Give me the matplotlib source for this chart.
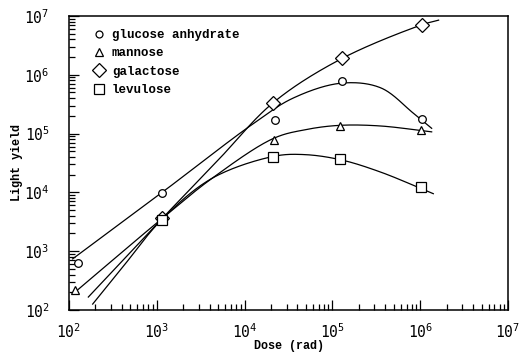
import numpy as np
import matplotlib
matplotlib.use('Agg')
import matplotlib.pyplot as plt
from matplotlib.lines import Line2D
from matplotlib.ticker import LogLocator, NullFormatter

plt.rcParams['font.family'] = ['DejaVu Sans Mono']
plt.rcParams['mathtext.default'] = 'regular'

# measured points (dose in rad, light yield)
glucose_dose = [1.25e2, 1.14e3, 2.2e4, 1.28e5, 1.04e6]
glucose_yield = [6.2e2, 9.9e3, 1.7e5, 7.9e5, 1.77e5]

mannose_dose = [1.18e2, 1.14e3, 2.15e4, 1.22e5, 1.02e6]
mannose_yield = [2.2e2, 3.4e3, 7.9e4, 1.36e5, 1.15e5]

galactose_dose = [1.15e3, 2.12e4, 1.28e5, 1.04e6]
galactose_yield = [3.6e3, 3.36e5, 1.9e6, 7.0e6]

levulose_dose = [1.14e3, 2.12e4, 1.22e5, 1.02e6]
levulose_yield = [3.4e3, 4.05e4, 3.66e4, 1.25e4]

# hand-drawn fit curves (knots along each line)
glucose_fit_dose = [1.1e2, 1.15e3, 1.26e4, 3.55e4, 1.26e5, 3.55e5, 8.3e5, 1.35e6]
glucose_fit_yield = [7.4e2, 1.0e4, 1.48e5, 4.0e5, 7.2e5, 6.0e5, 2.24e5, 1.23e5]

mannose_fit_dose = [1.1e2, 1.15e3, 4.27e3, 2.14e4, 5.0e4, 1.2e5, 3.47e5, 1.35e6]
mannose_fit_yield = [1.86e2, 3.6e3, 1.74e4, 8.3e4, 1.17e5, 1.38e5, 1.35e5, 1.07e5]

galactose_fit_dose = [1.66e2, 1.15e3, 5.0e3, 2.14e4, 1.29e5, 1.05e6, 1.62e6]
galactose_fit_yield = [1.66e2, 3.6e3, 3.55e4, 3.4e5, 1.9e6, 7.1e6, 8.5e6]

levulose_fit_dose = [1.86e2, 3.98e2, 1.15e3, 4.27e3, 2.14e4, 4.7e4, 1.23e5, 3.47e5, 1.41e6]
levulose_fit_yield = [1.26e2, 5.1e2, 3.5e3, 1.74e4, 4.1e4, 4.4e4, 3.6e4, 2.24e4, 9.5e3]


def smooth(xs, ys, n=40, alpha=0.5):
    # centripetal Catmull-Rom through the knots, in log-log space
    pts = np.column_stack([1.5 * np.log10(xs), np.log10(ys)])
    p = np.vstack([2 * pts[0] - pts[1], pts, 2 * pts[-1] - pts[-2]])
    segs = []
    for i in range(1, len(p) - 2):
        P0, P1, P2, P3 = p[i - 1], p[i], p[i + 1], p[i + 2]
        t0 = 0.0
        t1 = t0 + np.linalg.norm(P1 - P0) ** alpha
        t2 = t1 + np.linalg.norm(P2 - P1) ** alpha
        t3 = t2 + np.linalg.norm(P3 - P2) ** alpha
        t = np.linspace(t1, t2, n)[:, None]
        A1 = (t1 - t) / (t1 - t0) * P0 + (t - t0) / (t1 - t0) * P1
        A2 = (t2 - t) / (t2 - t1) * P1 + (t - t1) / (t2 - t1) * P2
        A3 = (t3 - t) / (t3 - t2) * P2 + (t - t2) / (t3 - t2) * P3
        B1 = (t2 - t) / (t2 - t0) * A1 + (t - t0) / (t2 - t0) * A2
        B2 = (t3 - t) / (t3 - t1) * A2 + (t - t1) / (t3 - t1) * A3
        C = (t2 - t) / (t2 - t1) * B1 + (t - t1) / (t2 - t1) * B2
        segs.append(C)
    c = np.vstack(segs)
    return 10 ** (c[:, 0] / 1.5), 10 ** c[:, 1]


fig = plt.figure(figsize=(5.22, 3.57), dpi=100)
ax = fig.add_axes([0.1322, 0.1317, 0.8410, 0.8235])

lw = 0.9
for fx, fy in [(glucose_fit_dose, glucose_fit_yield),
               (mannose_fit_dose, mannose_fit_yield),
               (galactose_fit_dose, galactose_fit_yield),
               (levulose_fit_dose, levulose_fit_yield)]:
    cx, cy = smooth(fx, fy)
    ax.plot(cx, cy, color='black', lw=lw, zorder=2)

mk = dict(linestyle='none', mfc='white', mec='black', mew=0.9, zorder=3)
ax.plot(glucose_dose, glucose_yield, marker='o', ms=5.5, **mk)
ax.plot(mannose_dose, mannose_yield, marker='^', ms=6, **mk)
ax.plot(galactose_dose, galactose_yield, marker='D', ms=7.5, **mk)
ax.plot(levulose_dose, levulose_yield, marker='s', ms=7.5, **mk)

ax.set_xscale('log')
ax.set_yscale('log')
ax.set_xlim(1e2, 1e7)
ax.set_ylim(1e2, 1e7)

decades = [2, 3, 4, 5, 6, 7]
ax.set_xticks([10.0 ** d for d in decades])
ax.set_xticklabels([r'$10^{%d}$' % d for d in decades])
ax.set_yticks([10.0 ** d for d in decades])
ax.set_yticklabels([r'$10^{%d}$' % d for d in decades])
for a in (ax.xaxis, ax.yaxis):
    a.set_minor_locator(LogLocator(base=10, subs=np.arange(2, 10)))
    a.set_minor_formatter(NullFormatter())

ax.tick_params(which='both', direction='in', top=False, right=False,
               width=0.9, labelsize=10.5)
ax.tick_params(which='major', length=7)
ax.tick_params(which='minor', length=4)
ax.tick_params(axis='x', pad=9)
ax.tick_params(axis='y', pad=14)

for s in ax.spines.values():
    s.set_linewidth(1.1)

ax.set_xlabel('Dose (rad)', family='Liberation Mono', weight='bold', fontsize=8.5)
ax.set_ylabel('Light yield', family='Liberation Mono', weight='bold', fontsize=8.5)
ax.xaxis.set_label_coords(0.5, -0.102)
ax.yaxis.set_label_coords(-0.104, 0.5)

handles = [
    Line2D([], [], marker='o', ms=5, **mk),
    Line2D([], [], marker='^', ms=6, **mk),
    Line2D([], [], marker='D', ms=7, **mk),
    Line2D([], [], marker='s', ms=7, **mk),
]
labels = ['glucose anhydrate', 'mannose', 'galactose', 'levulose']
ax.legend(handles, labels, loc='upper left', bbox_to_anchor=(0.035, 0.985),
          frameon=False, handlelength=1.0, handletextpad=0.5,
          labelspacing=0.5, borderpad=0.2,
          prop={'family': 'Liberation Mono', 'weight': 'bold', 'size': 9})

fig.savefig('out.png', dpi=100)
